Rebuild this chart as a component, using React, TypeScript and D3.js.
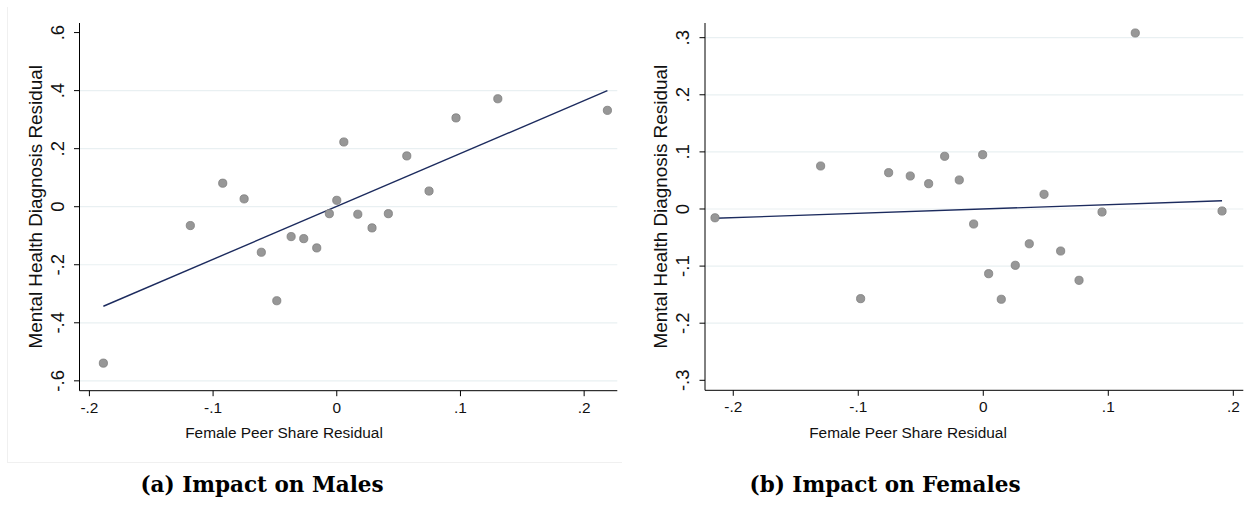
import React from "react";
import * as d3 from "d3";

// ---- Data ----
const malesX = [-0.1887, -0.1184, -0.0922, -0.0749, -0.061, -0.0485, -0.0369, -0.0267, -0.0162, -0.006, 0.0, 0.0057, 0.017, 0.0285, 0.0417, 0.0566, 0.0746, 0.0964, 0.1302, 0.2188];
const malesY = [-0.539, -0.065, 0.081, 0.027, -0.157, -0.324, -0.103, -0.11, -0.142, -0.024, 0.022, 0.223, -0.026, -0.073, -0.024, 0.175, 0.054, 0.306, 0.372, 0.332];
const malesFitX = [-0.1887, 0.2188];
const malesFitY = [-0.343, 0.4];
const malesYTicks = [-0.6, -0.4, -0.2, 0, 0.2, 0.4, 0.6];
const malesYGrid = [-0.6, -0.4, -0.2, 0, 0.2, 0.4];
const malesXTicks = [-0.2, -0.1, 0, 0.1, 0.2];

const femalesX = [-0.2146, -0.1301, -0.0981, -0.0757, -0.0584, -0.0437, -0.0309, -0.0192, -0.0077, -0.0005, 0.0043, 0.0144, 0.0256, 0.0368, 0.0486, 0.0619, 0.0766, 0.095, 0.1216, 0.191];
const femalesY = [-0.0154, 0.0753, -0.157, 0.0636, 0.0578, 0.0443, 0.0923, 0.0508, -0.0263, 0.0951, -0.1133, -0.1581, -0.0986, -0.0609, 0.0257, -0.0736, -0.1249, -0.0053, 0.3082, -0.0035];
const femalesFitX = [-0.2146, 0.191];
const femalesFitY = [-0.0163, 0.0145];
const femalesYTicks = [-0.3, -0.2, -0.1, 0, 0.1, 0.2, 0.3];
const femalesYGrid = [-0.2, -0.1, 0, 0.1, 0.2, 0.3];
const femalesXTicks = [-0.2, -0.1, 0, 0.1, 0.2];

const xTitle = "Female Peer Share Residual";
const yTitle = "Mental Health Diagnosis Residual";
const captions = ["(a) Impact on Males", "(b) Impact on Females"];

// Stata-style tick labels: "-.2", "0", ".4"
const fmt = (v: number) => {
  if (Math.abs(v) < 1e-9) return "0";
  const s = String(+v.toFixed(2));
  return s.replace(/^(-?)0\./, "$1.");
};

type PanelProps = {
  xs: number[]; ys: number[]; fitX: number[]; fitY: number[];
  xTicks: number[]; yTicks: number[]; yGrid: number[];
  xDomain: [number, number]; yDomain: [number, number];
  left: number; right: number; top: number; bottom: number;
  yTickX: number; yTitleX: number; xTitleCx: number;
  caption: string; captionCx: number;
};

const AXIS_FONT = "'Liberation Sans', Arial, sans-serif";

function Panel(p: PanelProps) {
  const x = d3.scaleLinear().domain(p.xDomain).range([p.left, p.right]);
  const y = d3.scaleLinear().domain(p.yDomain).range([p.bottom, p.top]);
  const fitPts: [number, number][] = p.fitX.map((v, i) => [v, p.fitY[i]]);
  const line = d3.line<[number, number]>().x(d => x(d[0])).y(d => y(d[1]));
  return (
    <g>
      {p.yGrid.map(v => (
        <line key={"g" + v} x1={p.left} x2={p.right} y1={y(v)} y2={y(v)} stroke="#e9f0f2" strokeWidth={1.2} />
      ))}
      <line x1={p.left} x2={p.left} y1={p.top} y2={p.bottom} stroke="#000" strokeWidth={1} />
      <line x1={p.left} x2={p.right} y1={p.bottom} y2={p.bottom} stroke="#000" strokeWidth={1} />
      {p.yTicks.map(v => (
        <g key={"yt" + v}>
          <line x1={p.left - 5.5} x2={p.left} y1={y(v)} y2={y(v)} stroke="#000" strokeWidth={1} />
          <text transform={`translate(${p.yTickX},${y(v)}) rotate(-90)`} textAnchor="middle"
            fontFamily={AXIS_FONT} fontSize={18.5} fill="#111">{fmt(v)}</text>
        </g>
      ))}
      {p.xTicks.map(v => (
        <g key={"xt" + v}>
          <line x1={x(v)} x2={x(v)} y1={p.bottom} y2={p.bottom + 5.5} stroke="#000" strokeWidth={1} />
          <text x={x(v)} y={p.bottom + 22} textAnchor="middle" fontFamily={AXIS_FONT} fontSize={15.4} fill="#111">{fmt(v)}</text>
        </g>
      ))}
      <text x={p.xTitleCx} y={p.bottom + 47.5} textAnchor="middle" fontFamily={AXIS_FONT} fontSize={15.4} fill="#111">{xTitle}</text>
      <text transform={`translate(${p.yTitleX},${(p.top + p.bottom) / 2}) rotate(-90)`} textAnchor="middle"
        fontFamily={AXIS_FONT} fontSize={18.9} fill="#111">{yTitle}</text>
      <path d={line(fitPts) || ""} fill="none" stroke="#1c2b5e" strokeWidth={1.4} />
      {p.xs.map((v, i) => (
        <circle key={"p" + i} cx={x(v)} cy={y(p.ys[i])} r={4.1} fill="#979797" stroke="#7d7d7d" strokeWidth={0.8} />
      ))}
      <text x={p.captionCx} y={492} textAnchor="middle" fontFamily="'DejaVu Serif', serif" fontWeight="bold" fontSize={21.5} fill="#000">{p.caption}</text>
    </g>
  );
}

export default function App() {
  return (
    <svg width={1255} height={508} style={{ position: "absolute", left: 0, top: 0, background: "#fff" }}>
      <rect x={0} y={0} width={1255} height={508} fill="#fff" />
      <line x1={7.5} x2={7.5} y1={7} y2={462} stroke="#f0f0f0" strokeWidth={1} />
      <line x1={7} x2={622} y1={462.5} y2={462.5} stroke="#f0f0f0" strokeWidth={1} />
      <Panel xs={malesX} ys={malesY} fitX={malesFitX} fitY={malesFitY}
        xTicks={malesXTicks} yTicks={malesYTicks} yGrid={malesYGrid}
        xDomain={[-0.208, 0.2268]} yDomain={[-0.634, 0.633]}
        left={79.5} right={617.3} top={23} bottom={390.7}
        yTickX={63.5} yTitleX={41.5} xTitleCx={284} caption={captions[0]} captionCx={262} />
      <Panel xs={femalesX} ys={femalesY} fitX={femalesFitX} fitY={femalesFitY}
        xTicks={femalesXTicks} yTicks={femalesYTicks} yGrid={femalesYGrid}
        xDomain={[-0.2226, 0.208]} yDomain={[-0.3175, 0.3257]}
        left={705} right={1243.3} top={23} bottom={390.3}
        yTickX={688.5} yTitleX={666.7} xTitleCx={908} caption={captions[1]} captionCx={885} />
    </svg>
  );
}
